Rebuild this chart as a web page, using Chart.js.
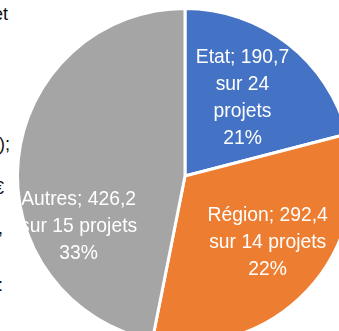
<!DOCTYPE html>
<html lang="fr">
<head>
<meta charset="utf-8">
<script src="https://cdn.jsdelivr.net/npm/chart.js@4/dist/chart.umd.min.js"></script>
<style>
	html, body {
		margin: 0;
		padding: 0;
		width: 339px;
		height: 331px;
		overflow: hidden;
		background: #fff;
	}
	/* the pie is bigger than the window, so its box sits partly off screen */
	.pie-box {
		position: absolute;
		left: -15px;
		top: -24px;
		width: 400px;
		height: 400px;
	}
	/* tail ends of the text column on the left, cut by the frame */
	.side-text {
		position: absolute;
		font: 18px "Liberation Sans", Arial, sans-serif;
		line-height: 18px;
		color: #111;
		white-space: nowrap;
	}
</style>
</head>
<body>
<div class="side-text" style="left:-7px; top:5px;">et</div>
<div class="side-text" style="left:-1px; top:135px;">);</div>
<div class="side-text" style="left:-6px; top:179px;">€</div>
<div class="side-text" style="left:-2px; top:219px;">,</div>
<div class="side-text" style="left:-2px; top:276px;">:</div>

<div class="pie-box"><canvas id="pie" width="400" height="400"></canvas></div>

<script>
// financement par acteur (M€)
const categories = ['Etat', 'Région', 'Autres'];
const amounts = [190.7, 292.4, 426.2];
const projectCounts = [24, 14, 15];
const sharePercents = [21, 22, 33];

const colors = ['#4472C4', '#ED7D31', '#A5A5A5'];

const frNumber = v => v.toFixed(1).replace('.', ',');

// greedy word wrap, widths measured with the horizontal squeeze applied
function wrapWords(ctx, text, maxWidth, stretch) {
	const words = text.split(' ');
	const lines = [];
	let line = '';
	words.forEach(word => {
		const test = line ? line + ' ' + word : word;
		if (line && ctx.measureText(test).width * stretch > maxWidth) {
			lines.push(line);
			line = word;
		} else {
			line = test;
		}
	});
	if (line) lines.push(line);
	return lines;
}

const sliceLabels = {
	id: 'sliceLabels',
	afterDatasetsDraw(chart, args, opts) {
		const ctx = chart.ctx;
		const arcs = chart.getDatasetMeta(0).data;

		ctx.save();
		ctx.font = opts.font;
		ctx.fillStyle = opts.color;
		ctx.textAlign = 'center';
		ctx.textBaseline = 'middle';

		arcs.forEach((arc, i) => {
			const { x, y, startAngle, endAngle, outerRadius } =
				arc.getProps(['x', 'y', 'startAngle', 'endAngle', 'outerRadius'], true);
			const mid = (startAngle + endAngle) / 2;
			const r = outerRadius * opts.radial[i];
			const cx = x + Math.cos(mid) * r + opts.nudge[i][0];
			const cy = y + Math.sin(mid) * r + opts.nudge[i][1];

			const text = categories[i] + '; ' + frNumber(amounts[i]) + ' sur ' + projectCounts[i] + ' projets';
			const lines = wrapWords(ctx, text, opts.maxWidth[i], opts.stretch);
			lines.push(sharePercents[i] + '%');

			lines.forEach((line, k) => {
				const ly = cy + (k - (lines.length - 1) / 2) * opts.lineHeight;
				ctx.save();
				ctx.translate(cx, ly);
				ctx.scale(opts.stretch, 1);
				ctx.fillText(line, 0, 0);
				ctx.restore();
			});
		});

		ctx.restore();
	}
};

new Chart(document.getElementById('pie'), {
	type: 'pie',
	data: {
		labels: categories,
		datasets: [{
			data: amounts,
			backgroundColor: colors,
			borderColor: '#ffffff',
			borderWidth: 3
		}]
	},
	options: {
		responsive: false,
		animation: false,
		devicePixelRatio: 1,
		radius: 167.5,
		layout: { padding: 0 },
		plugins: {
			legend: { display: false },
			tooltip: { enabled: false },
			sliceLabels: {
				font: '21px "Liberation Sans", Arial, sans-serif',
				color: '#ffffff',
				stretch: 0.92,
				lineHeight: 27,
				maxWidth: [100, 130, 130],
				radial: [0.58, 0.63, 0.65],
				nudge: [[-2, -1], [6, -6], [2, 61]]
			}
		}
	},
	plugins: [sliceLabels]
});
</script>
</body>
</html>
